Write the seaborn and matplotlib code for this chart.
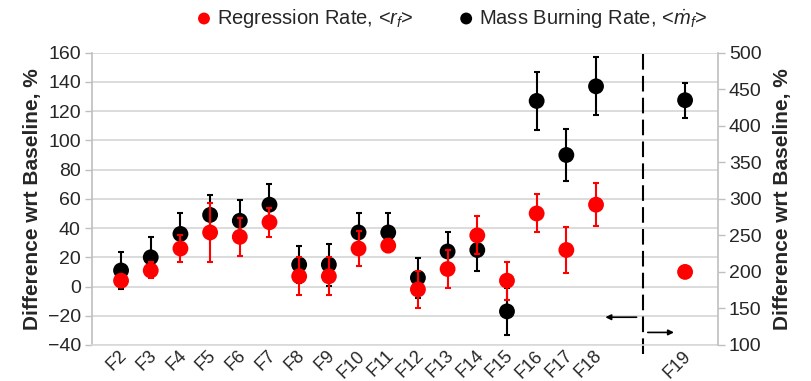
import numpy as np
import pandas as pd
import matplotlib
matplotlib.use("Agg")
import matplotlib.pyplot as plt
import matplotlib.transforms as mtransforms
import seaborn as sns

# values
categories = ["F2", "F3", "F4", "F5", "F6", "F7", "F8", "F9", "F10",
              "F11", "F12", "F13", "F14", "F15", "F16", "F17", "F18"]
regression_rate = [4, 11, 26, 37, 34, 44, 7, 7, 26, 28, -2, 12, 35, 4, 50, 25, 56]
regression_err = [3, 5.5, 9.5, 20, 13, 10, 13, 13, 12, 4.5, 12.7, 12.7, 13, 13, 13, 16, 14.5]
mass_burning_rate = [11, 20, 36, 49, 45, 56, 15, 15, 37, 37, 6, 24, 25, -17, 127, 90, 137]
mass_burning_err = [12.5, 13.7, 14, 13.6, 14, 14, 12.7, 14.4, 13.6, 13.6, 13.8, 13.6, 14.3, 16, 19.7, 18, 19.8]

# F19 is read against the right-hand axis
f19_label = "F19"
f19_regression = [200]
f19_mass_burning = [435]
f19_mass_burning_err = [24]

left_ticks = list(range(-40, 161, 20))
right_ticks = list(range(100, 501, 50))

RED = "#ff0000"
BLACK = "#000000"
GRID = "#d9d9d9"
SPINE = "#bfbfbf"

sns.set_style("white")
plt.rcParams["font.family"] = ["Liberation Sans", "DejaVu Sans"]
plt.rcParams["mathtext.fontset"] = "custom"
plt.rcParams["mathtext.rm"] = "Liberation Sans"
plt.rcParams["mathtext.it"] = "Liberation Sans:italic"

df = pd.DataFrame({
    "case": categories,
    "pos": np.arange(len(categories)),
    "rr": regression_rate,
    "rr_err": regression_err,
    "mbr": mass_burning_rate,
    "mbr_err": mass_burning_err,
})
f19_pos = len(categories) + 2
df19 = pd.DataFrame({"pos": [f19_pos], "rr": f19_regression,
                     "mbr": f19_mass_burning, "mbr_err": f19_mass_burning_err})

fig = plt.figure(figsize=(8.11, 3.81), dpi=100)
ax = fig.add_axes([0.1134, 0.0945, 0.7716, 0.7672])
ax2 = ax.twinx()

eb = dict(fmt="none", elinewidth=1.5, capsize=2, capthick=1.5)

# left axis series
ax.errorbar(df["pos"], df["mbr"], yerr=df["mbr_err"], ecolor=BLACK, zorder=3, **eb)
sns.scatterplot(data=df, x="pos", y="mbr", ax=ax, color=BLACK, s=130,
                edgecolor="none", zorder=4, label=r"Mass Burning Rate, <$\dot{m}_f$>")
ax.errorbar(df["pos"], df["rr"], yerr=df["rr_err"], ecolor=RED, zorder=5, **eb)
sns.scatterplot(data=df, x="pos", y="rr", ax=ax, color=RED, s=130,
                edgecolor="none", zorder=6, label=r"Regression Rate, <$r_f$>")

# right axis (F19)
ax2.errorbar(df19["pos"], df19["mbr"], yerr=df19["mbr_err"], ecolor=BLACK, zorder=3, **eb)
sns.scatterplot(data=df19, x="pos", y="mbr", ax=ax2, color=BLACK, s=130,
                edgecolor="none", zorder=4, legend=False)
sns.scatterplot(data=df19, x="pos", y="rr", ax=ax2, color=RED, s=130,
                edgecolor="none", zorder=6, legend=False)

ax.set_xlim(-0.98, 20.1)
ax.set_ylim(-40, 160)
ax2.set_ylim(100, 500)
ax.set_yticks(left_ticks)
ax2.set_yticks(right_ticks)

ax.set_xticks(list(df["pos"]) + [f19_pos])
ax.set_xticklabels(categories + [f19_label], rotation=45, ha="right",
                   va="center", rotation_mode="anchor", fontsize=13)
ax.tick_params(axis="x", length=0, pad=6)
shift = mtransforms.ScaledTranslation(2.5 / 72, 0, fig.dpi_scale_trans)
for lbl in ax.get_xticklabels():
    lbl.set_transform(lbl.get_transform() + shift)
ax.tick_params(axis="y", left=True, length=5, width=1, color=SPINE,
               labelsize=14, pad=3)
ax2.tick_params(axis="y", right=True, length=5, width=1, color=SPINE,
                labelsize=14, pad=3)

ax.yaxis.grid(True, color=GRID, lw=1.3)
ax.xaxis.grid(False)
ax.set_axisbelow(True)

for name, sp in ax.spines.items():
    sp.set_visible(name in ("left", "bottom"))
    sp.set_color(SPINE if name == "left" else GRID)
    sp.set_linewidth(1.2)
for name, sp in ax2.spines.items():
    sp.set_visible(name == "right")
    sp.set_color(SPINE)
    sp.set_linewidth(1.2)

ax.set_xlabel("")
ax.set_ylabel("Difference wrt Baseline, %", fontsize=15, fontweight="bold", labelpad=4)
ax2.set_ylabel("Difference wrt Baseline, %", fontsize=15, fontweight="bold",
               labelpad=8, rotation=90)

# divider between left- and right-axis cases
trans = mtransforms.blended_transform_factory(ax.transData, ax.transAxes)
ax.plot([17.59, 17.59], [-0.03, 1.0], transform=trans, color=BLACK, lw=1.5,
        ls=(0, (7.5, 3)), clip_on=False, zorder=2)
ax.annotate("", xy=(16.22, -21), xytext=(17.46, -21),
            arrowprops=dict(arrowstyle="-|>", color=BLACK, lw=1.2, mutation_scale=8))
ax.annotate("", xy=(18.72, -31.4), xytext=(17.65, -31.4),
            arrowprops=dict(arrowstyle="-|>", color=BLACK, lw=1.2, mutation_scale=8))

handles, labels = ax.get_legend_handles_labels()
ax.get_legend().remove()
order = [1, 0]
fig.legend([handles[i] for i in order], [labels[i] for i in order],
           loc="center", bbox_to_anchor=(0.557, 0.952), ncol=2, frameon=False,
           fontsize=14.5, handlelength=0.8, handletextpad=0.25, columnspacing=2.2,
           markerscale=0.75)

fig.savefig("out.png", dpi=100)
plt.close(fig)
